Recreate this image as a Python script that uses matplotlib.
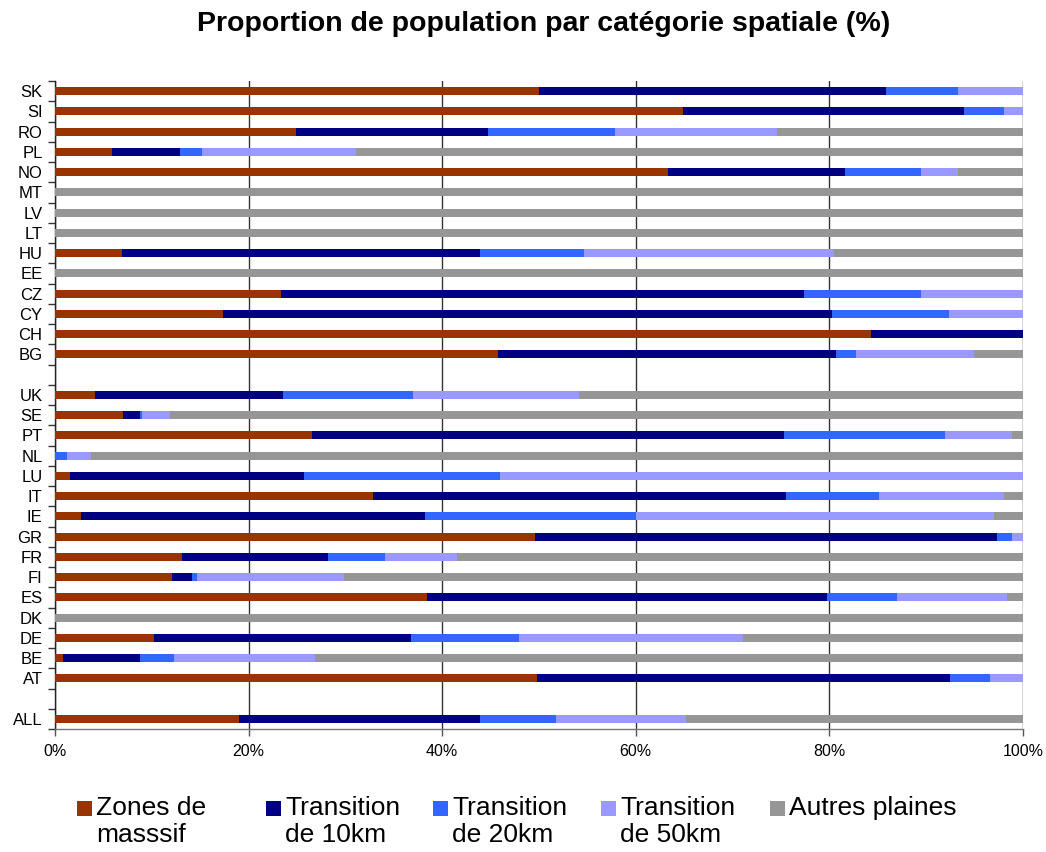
import matplotlib
matplotlib.use("Agg")
import matplotlib.pyplot as plt
from matplotlib.patches import Rectangle
from matplotlib.ticker import FixedLocator, PercentFormatter

plt.rcParams['font.family'] = ['Liberation Sans', 'DejaVu Sans']

# Categories from bottom to top ('' = empty row used as separator)
categories = ['ALL', '', 'AT', 'BE', 'DE', 'DK', 'ES', 'FI', 'FR', 'GR', 'IE', 'IT',
              'LU', 'NL', 'PT', 'SE', 'UK', '', 'BG', 'CH', 'CY', 'CZ', 'EE', 'HU',
              'LT', 'LV', 'MT', 'NO', 'PL', 'RO', 'SI', 'SK']

zones_massif = [19.0, 0, 49.8, 0.8, 10.2, 0, 38.4, 12.1, 13.1, 49.6, 2.7, 32.8,
                1.6, 0, 26.5, 7.0, 4.1, 0, 45.8, 84.3, 17.4, 23.3, 0, 6.9,
                0, 0, 0, 63.3, 5.9, 24.9, 64.9, 50.0]
transition_10 = [24.9, 0, 42.7, 8.0, 26.6, 0, 41.4, 2.1, 15.1, 47.7, 35.5, 42.7,
                 24.1, 0, 48.8, 1.8, 19.5, 0, 34.9, 15.7, 62.9, 54.1, 0, 37.0,
                 0, 0, 0, 18.3, 7.0, 19.8, 29.0, 35.8]
transition_20 = [7.9, 0, 4.1, 3.5, 11.1, 0, 7.2, 0.5, 5.9, 1.6, 21.8, 9.6,
                 20.3, 1.2, 16.6, 0.2, 13.4, 0, 2.0, 0, 12.1, 12.1, 0, 10.8,
                 0, 0, 0, 7.9, 2.3, 13.2, 4.1, 7.5]
transition_50 = [13.4, 0, 3.4, 14.6, 23.2, 0, 11.3, 15.2, 7.4, 1.1, 37.0, 12.9,
                 54.0, 2.5, 7.0, 2.9, 17.1, 0, 12.2, 0, 7.6, 10.5, 0, 25.8,
                 0, 0, 0, 3.8, 15.9, 16.7, 2.0, 6.7]
autres_plaines = [34.8, 0, 0, 73.1, 28.9, 100, 1.7, 70.1, 58.5, 0, 3.0, 2.0,
                  0, 96.3, 1.1, 88.1, 45.9, 0, 5.1, 0, 0, 0, 100, 19.5,
                  100, 100, 100, 6.7, 68.9, 25.4, 0, 0]

series = [zones_massif, transition_10, transition_20, transition_50, autres_plaines]
series_labels = ['Zones de\nmasssif', 'Transition\nde 10km', 'Transition\nde 20km',
                 'Transition\nde 50km', 'Autres plaines']
colors = ['#993300', '#000080', '#3366FF', '#9999FF', '#969696']

title = 'Proportion de population par catégorie spatiale (%)'
x_ticks = [0, 20, 40, 60, 80, 100]

fig = plt.figure(figsize=(10.46, 8.52), dpi=100)
ax = fig.add_axes([55 / 1046, 1 - 729 / 852, (1023 - 55) / 1046, (729 - 81) / 852])

ypos = list(range(len(categories)))
left = [0.0] * len(categories)
for vals, col in zip(series, colors):
    ax.barh(ypos, vals, left=left, height=0.4, color=col, linewidth=0, zorder=3)
    left = [l + v for l, v in zip(left, vals)]

ax.set_xlim(0, 100)
ax.set_ylim(-0.5, len(categories) - 0.5)

ax.set_xticks(x_ticks)
ax.xaxis.set_major_formatter(PercentFormatter(decimals=0))
ax.grid(axis='x', color='#333333', linewidth=1.0, zorder=1)
ax.set_axisbelow(True)

ax.set_yticks(ypos)
ax.set_yticklabels(categories)
ax.yaxis.set_minor_locator(FixedLocator([i - 0.5 for i in range(len(categories) + 1)]))
ax.tick_params(axis='y', which='major', length=0, pad=9, labelsize=12)
ax.tick_params(axis='y', which='minor', length=5, width=1, color='#333333')
ax.tick_params(axis='x', which='major', length=5, width=1, color='#555555', pad=6,
               labelsize=11.5)

for s in ['top', 'right']:
    ax.spines[s].set_visible(False)
ax.spines['left'].set_color('#222222')
ax.spines['bottom'].set_color('#777777')
ax.spines['left'].set_linewidth(1.0)
ax.spines['bottom'].set_linewidth(1.0)

fig.text(544 / 1046, 1 - 24 / 852, title, ha='center', va='center',
         fontsize=20.5, fontweight='bold')

# Manual legend (square aligned with first text line)
text_x = [96, 285, 452, 620, 789]
for lab, col, tx in zip(series_labels, colors, text_x):
    sq = Rectangle(((tx - 19) / 1046, 1 - 816 / 852), 15 / 1046, 15 / 852,
                   transform=fig.transFigure, facecolor=col, edgecolor='none')
    fig.patches.append(sq)
    fig.text(tx / 1046, 1 - 796 / 852, lab, ha='left', va='top', fontsize=19,
             linespacing=1.17)

fig.savefig('out.png', dpi=100)
